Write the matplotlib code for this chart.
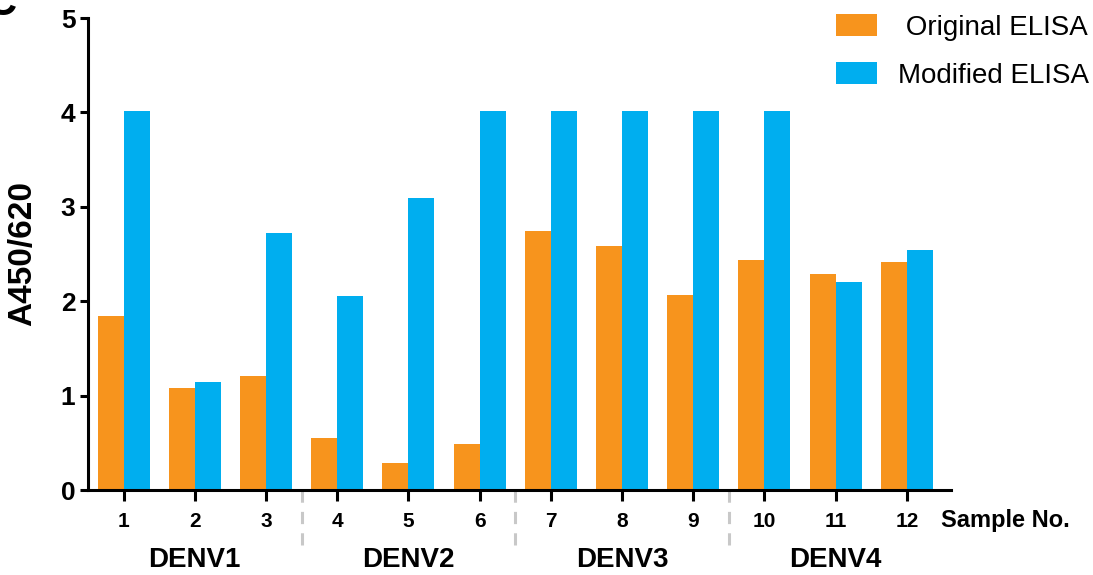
import matplotlib.pyplot as plt
import matplotlib.transforms as mtransforms
import numpy as np

plt.rcParams['font.family'] = ['Liberation Sans', 'DejaVu Sans']

# data
samples = list(range(1, 13))
original = [1.84, 1.08, 1.21, 0.55, 0.29, 0.49, 2.74, 2.58, 2.07, 2.44, 2.29, 2.41]
modified = [4.02, 1.14, 2.72, 2.05, 3.09, 4.02, 4.02, 4.02, 4.02, 4.02, 2.20, 2.54]
groups = ['DENV1', 'DENV2', 'DENV3', 'DENV4']
group_size = 3

orange = '#F7941D'
blue = '#00AEEF'

fig = plt.figure(figsize=(10.93, 5.75), dpi=100)
ax = fig.add_axes([88 / 1093, 85 / 575, 863 / 1093, 472 / 575])

x = np.array(samples)
w = 0.365
ax.bar(x - w / 2, original, width=w, color=orange, label=' Original ELISA')
ax.bar(x + w / 2, modified, width=w, color=blue, label='Modified ELISA')

ax.set_xlim(0.5, 12.62)
ax.set_ylim(0, 5)
ax.set_yticks(range(0, 6))
ax.set_xticks(samples)

for side in ['top', 'right']:
    ax.spines[side].set_visible(False)
for side in ['left', 'bottom']:
    ax.spines[side].set_linewidth(2.2)

ax.tick_params(axis='y', direction='out', length=6, width=2.2, pad=3, labelsize=19)
ax.tick_params(axis='x', direction='out', length=8, width=2.2, pad=8, labelsize=15)
for lab in ax.get_xticklabels() + ax.get_yticklabels():
    lab.set_fontweight('bold')

ax.set_ylabel('A450/620', fontsize=24, fontweight='bold')
ax.yaxis.set_label_coords(-0.058, 0.5)

# group separators and group names below the axis
trans = mtransforms.blended_transform_factory(ax.transData, ax.transAxes)
n_groups = len(groups)
for i in range(1, n_groups):
    xb = i * group_size + 0.5
    ax.plot([xb, xb], [0, -0.135], transform=trans, clip_on=False,
            color='#C8C8C8', lw=2.2, dashes=(4, 3))
for i, g in enumerate(groups):
    xc = np.mean(samples[i * group_size:(i + 1) * group_size])
    ax.text(xc, -0.148, g, transform=trans, ha='center', va='center',
            fontsize=20, fontweight='bold')

fig.text(941 / 1093, 1 - 521 / 575, 'Sample No.', ha='left', va='center',
         fontsize=17, fontweight='bold')

# panel letter, cut at the top-left edge
fig.text(16 / 1093, 1 - 15 / 575, 'C', ha='right', va='baseline',
         fontsize=30, fontweight='bold')

ax.legend(loc='upper right', bbox_to_anchor=(1089 / 1093, 1 - 14 / 575),
          bbox_transform=fig.transFigure, frameon=False, fontsize=20,
          borderpad=0, borderaxespad=0, handlelength=1.47, handleheight=0.83,
          handletextpad=0.75, labelspacing=0.78)

plt.savefig('out.png', dpi=100)
